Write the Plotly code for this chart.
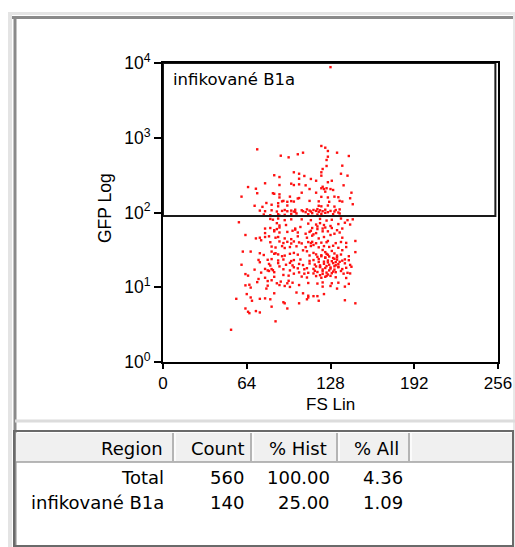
import plotly.graph_objects as go

# ---------------- data ----------------
fs = [
    72, 90, 96, 100, 85, 89, 78, 89, 98, 100,
    65, 71, 72, 84, 85, 89, 60, 89, 97,
    91, 92, 95, 98, 100, 79, 83, 88,
    70, 76, 88, 95,
    74, 78, 83, 87, 91, 93, 95, 98, 100,
    77, 82, 88, 89, 93, 98,
    82, 84, 88, 93, 98, 58,
    87, 89, 94, 78, 82, 85, 87, 89, 101,
    78, 85, 89, 95, 99, 63,
    78, 81, 86, 88, 93, 98, 71, 74,
    121, 124, 126, 103, 107, 133, 142, 126, 125, 125, 137,
    122, 121, 121, 104, 104, 108, 136, 141, 113, 117, 129, 126,
    104, 109, 138, 122, 121, 123, 125, 128, 130, 124,
    112, 106, 117, 144, 121, 126, 131, 134, 104, 103, 112,
    119, 127, 135, 137, 143, 145, 119, 121, 126, 131,
    101, 106, 110, 112, 115, 118, 120, 124, 128, 132, 135,
    101, 107, 109, 113, 117, 119, 122, 126, 131, 134,
    102, 111, 114, 118, 121, 124, 130, 135,
    106, 113, 120, 125, 129, 136, 141, 145,
    111, 117, 120, 123, 134, 139, 143,
    105, 114, 118, 122, 124, 128, 129,
    101, 113, 118, 126, 133, 137,
    103, 109, 112, 115, 117, 122, 131, 135,
    103, 110, 114, 119, 123, 128, 137,
    75, 82, 89, 92, 95, 98, 100,
    83, 86, 91, 93, 97, 61, 67, 74, 77,
    83, 85, 86, 88, 91, 93, 97, 100,
    80, 83, 88, 92, 98, 100, 73, 74, 60,
    81, 82, 88, 89, 94, 97, 99,
    70, 78, 80, 81, 83, 84, 85, 92, 97, 100,
    75, 63, 65, 78, 85, 92, 96, 100,
    73, 72, 80, 83, 87, 90, 96, 95, 99,
    63, 66, 67, 80, 79, 89, 93, 97,
    64, 85, 67, 68, 74, 78, 82, 56, 92, 93,
    63, 65, 66, 71, 74, 83, 95, 86, 52,
    104, 106, 111, 113, 114, 117, 121, 125, 126, 132, 136, 140, 147,
    102, 109, 113, 115, 119, 123, 127, 130, 134, 140,
    107, 110, 122, 124, 129, 137, 147,
    103, 112, 115, 117, 121, 125, 126, 131, 133, 136, 142,
    105, 112, 115, 119, 124, 126, 131, 133, 137, 139, 142,
    104, 107, 112, 116, 120, 123, 127, 130, 132, 134, 139, 143,
    103, 108, 110, 115, 120, 122, 124, 128, 131, 134, 137, 140, 144,
    104, 108, 111, 115, 118, 122, 125, 126, 129, 132, 138, 141, 143,
    106, 110, 117, 121, 124, 128, 132, 140,
    111, 118, 122, 129, 134, 142, 104, 122, 128, 133, 139,
    102, 107, 111, 115, 123, 111, 118, 119, 110, 139, 104, 147, 128,
    118, 121, 124, 127, 130, 133, 119, 123, 126, 129, 132, 135,
    117, 120, 125, 128, 131, 134, 116, 122, 127, 130, 136, 120, 125,
]
gfp = [
    700, 575, 547, 345, 315, 298, 246, 233, 243, 233,
    219, 208, 181, 181, 178, 175, 163, 159, 163,
    141, 143, 139, 142, 140, 134, 127, 133,
    123, 119, 121, 124,
    106, 104, 107, 103, 105, 108, 104, 106, 103,
    94, 92, 95, 91, 93, 96,
    82, 80, 83, 79, 81, 74,
    72, 67, 68, 61, 62, 58, 60, 63, 61,
    53, 56, 54, 55, 57, 50,
    47, 48, 46, 47, 45, 44, 45, 46,
    776, 736, 665, 601, 631, 631, 570, 558, 504, 419, 423,
    382, 345, 311, 330, 283, 308, 330, 311, 281, 266, 266, 254,
    238, 231, 231, 221, 211, 206, 211, 206, 200, 190,
    206, 184, 184, 184, 162, 159, 163, 160, 156, 154, 143,
    141, 139, 143, 140, 155, 129, 123, 121, 124, 120,
    109, 107, 110, 106, 108, 111, 107, 109, 105, 108, 110,
    102, 104, 101, 103, 105, 102, 104, 101, 103, 100,
    97, 95, 98, 94, 96, 99, 95, 97,
    81, 79, 82, 78, 80, 83, 79, 81,
    71, 69, 72, 68, 70, 73, 69,
    64, 62, 65, 61, 63, 66, 62,
    59, 57, 60, 56, 58, 61,
    54, 52, 55, 51, 53, 56, 52, 54,
    48, 46, 49, 45, 47, 50, 46,
    42.5, 40, 41, 39, 40.5, 38.5, 41,
    35, 34, 35.5, 33.5, 34.5, 30, 30, 28.5, 27,
    30, 28, 28.5, 27.5, 26, 26.5, 28, 28.8,
    23.3, 23.8, 22.8, 23.5, 22.4, 23.1, 23.2, 21.6, 20,
    20.5, 19.5, 21, 19, 20, 21.2, 19.6,
    17.2, 17.6, 16.8, 16.5, 17.5, 16.9, 15.9, 17.4, 16.8, 18.5,
    15.7, 15, 14.3, 13.4, 13.8, 14.6, 14.3, 15.2,
    12.9, 11.7, 12.1, 12.4, 11.3, 11.9, 12.2, 11.3, 11.5,
    10.6, 10.8, 9.9, 10.5, 9.6, 10.7, 10.4, 10.1,
    8.1, 8.3, 7.3, 6.6, 7.0, 7.1, 6.9, 7.0, 6.3, 6.1,
    5.2, 4.7, 4.5, 4.8, 4.6, 5.5, 5.2, 3.5, 2.7,
    39.8, 38.6, 40.2, 39, 40.5, 38.8, 39.5, 40, 41.6, 38.9, 40.3, 39.2, 41.6,
    35.3, 34.4, 35.6, 36.8, 34.2, 35.5, 34.6, 35.9, 33.7, 34.5,
    31.2, 30.3, 31.5, 29.5, 30.6, 31.3, 29.5,
    27.3, 26.6, 28.8, 27.5, 26.8, 28, 27.2, 28.3, 26.5, 27.4, 26,
    23.5, 22.5, 23.1, 23.8, 24.8, 22.8, 24, 23.4, 22.7, 23.6, 23,
    20.5, 19.8, 20.8, 20.1, 19.6, 20.6, 20, 21, 19.7, 20.4, 20.9, 19.9,
    17.9, 17.4, 18, 17.6, 18.8, 17.3, 18.1, 17.8, 17.2, 18.8, 17.5, 18.2, 18.8,
    15.8, 15.2, 15.6, 15.3, 16, 15.1, 15.7, 14.8, 15.4, 15.9, 15.2, 15.6, 15.3,
    13.9, 13.5, 14.1, 13.4, 13.8, 14.2, 13.6, 13.3,
    11.4, 11.2, 11.6, 11.3, 11.5, 11.1, 10.7, 10.2, 10.4, 9.6, 10.2,
    8.5, 8.3, 7.7, 7.6, 8.1, 7.3, 7.6, 6.6, 6.9, 6.7, 6.1, 6.1, 8800,
    25.5, 26, 25, 25.8, 24.6, 25.2, 21.8, 22, 21.5, 22.3, 21.7, 21.9,
    19, 18.6, 19.2, 18.4, 19.1, 18.5, 16.6, 16.4, 16.8, 16.2, 16.5, 14.5, 14.2,
]
assert len(fs) == len(gfp)

x_ticks = [0, 64, 128, 192, 256]
y_ticks = [1, 10, 100, 1000, 10000]
y_tick_text = ["10<sup>0</sup>", "10<sup>1</sup>", "10<sup>2</sup>",
               "10<sup>3</sup>", "10<sup>4</sup>"]
x_title = "FS Lin"
y_title = "GFP Log"

gate_name = "infikované B1a"
gate_fs = [0, 254]
gate_gfp = [90, 10000]

table_header = ["Region", "Count", "% Hist", "% All"]
table_region = ["Total", "infikované B1a"]
table_count = ["560", "140"]
table_hist = ["100.00", "25.00"]
table_all = ["4.36", "1.09"]

# ---------------- layout geometry (pixels) ----------------
W, H = 515, 547
PL, PR, PT, PB = 163, 498, 63, 362


def xp(x):
    return (x - PL) / (PR - PL)


def yp(y):
    return (PB - y) / (PB - PT)


AX_FONT = "Liberation Sans, Arial, sans-serif"
TB_FONT = "DejaVu Sans, Verdana, sans-serif"

fig = go.Figure()
fig.add_trace(go.Scatter(
    x=fs, y=gfp, mode="markers",
    marker=dict(color="#ff1010", size=2.4, symbol="square", line=dict(width=0)),
    hoverinfo="skip", showlegend=False,
))

shapes = []


def rect_px(x0, y0, x1, y1, fill=None, line=None, lw=0, layer="above"):
    shapes.append(dict(type="rect", xref="paper", yref="paper",
                       x0=xp(x0), x1=xp(x1), y0=yp(y0), y1=yp(y1),
                       fillcolor=fill or "rgba(0,0,0,0)",
                       line=dict(color=line or "rgba(0,0,0,0)", width=lw),
                       layer=layer))


def line_px(x0, y0, x1, y1, color, lw):
    shapes.append(dict(type="line", xref="paper", yref="paper",
                       x0=xp(x0), x1=xp(x1), y0=yp(y0), y1=yp(y1),
                       line=dict(color=color, width=lw), layer="above"))


# gate region (data coordinates)
shapes.append(dict(type="rect", xref="x", yref="y",
                   x0=gate_fs[0], x1=gate_fs[1],
                   y0=gate_gfp[0], y1=gate_gfp[1],
                   line=dict(color="#1a1a1a", width=2), fillcolor="rgba(0,0,0,0)",
                   layer="above"))

# window chrome
rect_px(8, 12, 515, 15, fill="#e4e4e4")
line_px(12, 17.5, 515, 17.5, "#8a8a8a", 3)
rect_px(8, 12, 12, 547, fill="#e4e4e4")
line_px(15, 17, 15, 547, "#8a8a8a", 3)
line_px(514, 12, 514, 547, "#e8e8e8", 2)
line_px(15, 421, 515, 421, "#dcdcdc", 3)

# table
rect_px(16, 433, 512, 462, fill="#f0f0f0")
rect_px(14, 431, 513, 546, line="#6a6a6a", lw=2)
line_px(16, 462, 512, 462, "#a0a0a0", 1.5)
for xd in [173, 251, 337, 409]:
    line_px(xd, 433, xd, 461, "#a0a0a0", 1.5)
    line_px(xd + 2, 433, xd + 2, 461, "#ffffff", 1.5)

annotations = []


def text_px(x, y, s, size, family, xanchor="left", angle=0):
    annotations.append(dict(x=xp(x), y=yp(y), xref="paper", yref="paper",
                            text=s, showarrow=False, xanchor=xanchor,
                            yanchor="middle", textangle=angle,
                            font=dict(size=size, family=family, color="#000000")))


text_px(171, 80, gate_name, 16.5, TB_FONT)
text_px(330, 405, x_title, 17, AX_FONT, xanchor="center")
text_px(105, 208, y_title, 17.5, AX_FONT, xanchor="center", angle=-90)

col_right = [166, 246, 332, 405]
head_right = [165, 246, 329, 401]
for hr, h in zip(head_right, table_header):
    text_px(hr, 448, h, 18, TB_FONT, xanchor="right")
for i, yy in enumerate([477, 502]):
    row = [table_region[i], table_count[i], table_hist[i], table_all[i]]
    for cr, v in zip(col_right, row):
        text_px(cr, yy, v, 18, TB_FONT, xanchor="right")

fig.update_layout(
    width=W, height=H,
    margin=dict(l=PL, r=W - PR, t=PT, b=H - PB, pad=0, autoexpand=False),
    paper_bgcolor="#ffffff", plot_bgcolor="#ffffff",
    font=dict(family=AX_FONT, color="#000000"),
    shapes=shapes, annotations=annotations,
    xaxis=dict(range=[0, 256], tickvals=x_ticks, ticktext=[str(v) for v in x_ticks],
               ticks="outside", ticklen=5, tickwidth=2, tickcolor="#000000",
               showline=True, linewidth=2, linecolor="#000000", mirror=True,
               showgrid=False, zeroline=False, tickfont=dict(size=17),
               automargin=False),
    yaxis=dict(type="log", range=[0, 4], tickvals=y_ticks, ticktext=y_tick_text,
               ticks="outside", ticklen=7, tickwidth=2, tickcolor="#000000",
               showline=True, linewidth=2, linecolor="#000000", mirror=True,
               showgrid=False, zeroline=False, tickfont=dict(size=17.5),
               automargin=False),
)

fig.write_html("out.html")
